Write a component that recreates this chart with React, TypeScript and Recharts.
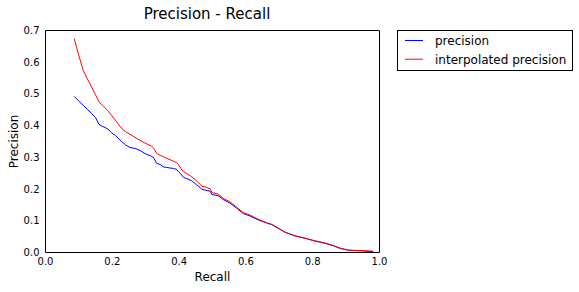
import React from "react";
import { LineChart, Line, XAxis, YAxis } from "recharts";

const recall = [
  0.086, 0.1, 0.113, 0.125, 0.138, 0.15, 0.16, 0.172, 0.186, 0.198, 0.208, 0.218, 0.228, 0.24,
  0.253, 0.268, 0.283, 0.298, 0.318, 0.323, 0.333, 0.343, 0.353, 0.363, 0.383, 0.393, 0.398,
  0.405, 0.413, 0.423, 0.438, 0.453, 0.463, 0.468, 0.478, 0.493, 0.498, 0.517, 0.532, 0.552,
  0.572, 0.592, 0.612, 0.637, 0.662, 0.677, 0.702, 0.717, 0.747, 0.777, 0.807, 0.837, 0.862,
  0.882, 0.907, 0.947, 0.981,
];
const precision = [
  0.492, 0.477, 0.464, 0.452, 0.438, 0.425, 0.404, 0.397, 0.39, 0.377, 0.37, 0.36, 0.35, 0.339,
  0.331, 0.328, 0.322, 0.312, 0.303, 0.3, 0.281, 0.278, 0.27, 0.268, 0.265, 0.262, 0.255,
  0.248, 0.237, 0.233, 0.226, 0.213, 0.205, 0.199, 0.197, 0.193, 0.183, 0.179, 0.167, 0.156,
  0.14, 0.123, 0.115, 0.103, 0.093, 0.088, 0.073, 0.064, 0.052, 0.045, 0.036, 0.029, 0.021,
  0.013, 0.007, 0.005, 0.003,
];
const interpolated = [
  0.674, 0.62, 0.574, 0.548, 0.522, 0.497, 0.475, 0.463, 0.448, 0.432, 0.419, 0.405, 0.391,
  0.381, 0.373, 0.363, 0.354, 0.345, 0.335, 0.33, 0.312, 0.307, 0.302, 0.297, 0.288, 0.283,
  0.277, 0.265, 0.255, 0.249, 0.239, 0.225, 0.215, 0.209, 0.207, 0.201, 0.189, 0.184, 0.171,
  0.16, 0.143, 0.126, 0.118, 0.105, 0.094, 0.089, 0.074, 0.064, 0.053, 0.045, 0.037, 0.03,
  0.022, 0.014, 0.0075, 0.006, 0.004,
];
const xTicks = [0, 0.2, 0.4, 0.6, 0.8, 1.0];
const yTicks = [0, 0.1, 0.2, 0.3, 0.4, 0.5, 0.6, 0.7];
const seriesNames = ["precision", "interpolated precision"];
const seriesColors = ["#0000ff", "#ff0000"];
const title = "Precision - Recall";
const xLabel = "Recall";
const yLabel = "Precision";

const data = recall.map((r, i) => ({
  recall: r,
  precision: precision[i],
  interpolated: interpolated[i],
}));

const FONT = "DejaVu Sans";
const tickStyle = { fill: "#000", fontSize: 10, fontFamily: FONT };

export default function App() {
  return (
    <div style={{ position: "absolute", left: 0, top: 0, width: 579, height: 292, fontFamily: FONT }}>
      <LineChart
        width={579}
        height={292}
        data={data}
        margin={{ top: 30.5, right: 199.5, bottom: 9.5, left: 5.5 }}
      >
        <XAxis
          dataKey="recall"
          type="number"
          domain={[0, 1]}
          ticks={xTicks}
          tickFormatter={(v: number) => v.toFixed(1)}
          stroke="#000"
          tickLine={false}
          tickSize={0}
          tickMargin={5}
          height={30}
          tick={tickStyle}
          allowDataOverflow
        />
        <XAxis
          xAxisId="bi"
          type="number"
          domain={[0, 1]}
          ticks={xTicks}
          orientation="bottom"
          mirror
          tick={false}
          axisLine={false}
          tickSize={4}
          stroke="#000"
          height={30}
        />
        <XAxis
          xAxisId="ti"
          type="number"
          domain={[0, 1]}
          ticks={xTicks}
          orientation="top"
          mirror
          tick={false}
          tickSize={4}
          stroke="#000"
          height={30}
        />
        <YAxis
          type="number"
          domain={[0, 0.7]}
          ticks={yTicks}
          tickFormatter={(v: number) => v.toFixed(1)}
          stroke="#000"
          tickLine={false}
          tickSize={0}
          tickMargin={6}
          width={40}
          tick={tickStyle}
          allowDataOverflow
        />
        <YAxis
          yAxisId="li"
          type="number"
          domain={[0, 0.7]}
          ticks={yTicks}
          orientation="left"
          mirror
          tick={false}
          axisLine={false}
          tickSize={4}
          stroke="#000"
          width={40}
        />
        <YAxis
          yAxisId="ri"
          type="number"
          domain={[0, 0.7]}
          ticks={yTicks}
          orientation="right"
          mirror
          tick={false}
          tickSize={4}
          stroke="#000"
          width={40}
        />
        <Line
          dataKey="precision"
          name={seriesNames[0]}
          type="linear"
          stroke={seriesColors[0]}
          strokeWidth={1}
          dot={false}
          isAnimationActive={false}
        />
        <Line
          dataKey="interpolated"
          name={seriesNames[1]}
          type="linear"
          stroke={seriesColors[1]}
          strokeWidth={1}
          dot={false}
          isAnimationActive={false}
        />
      </LineChart>
      <svg
        width={579}
        height={292}
        style={{ position: "absolute", left: 0, top: 0, pointerEvents: "none" }}
      >
        <text x={207} y={19} textAnchor="middle" fontSize={15} fontFamily={FONT} fill="#000">
          {title}
        </text>
        <text x={212.5} y={280.5} textAnchor="middle" fontSize={12} fontFamily={FONT} fill="#000">
          {xLabel}
        </text>
        <text
          x={17.5}
          y={141.5}
          textAnchor="middle"
          fontSize={12}
          fontFamily={FONT}
          fill="#000"
          transform="rotate(-90 17.5 141.5)"
        >
          {yLabel}
        </text>
        <rect x={397.5} y={30.5} width={175} height={40} fill="#fff" stroke="#000" strokeWidth={1} />
        {seriesNames.map((name, i) => (
          <g key={name}>
            <line
              x1={405}
              x2={423}
              y1={40.5 + i * 18.7}
              y2={40.5 + i * 18.7}
              stroke={seriesColors[i]}
              strokeWidth={1}
            />
            <text x={435} y={45.3 + i * 18.7} fontSize={12} fontFamily={FONT} fill="#000">
              {name}
            </text>
          </g>
        ))}
      </svg>
    </div>
  );
}
